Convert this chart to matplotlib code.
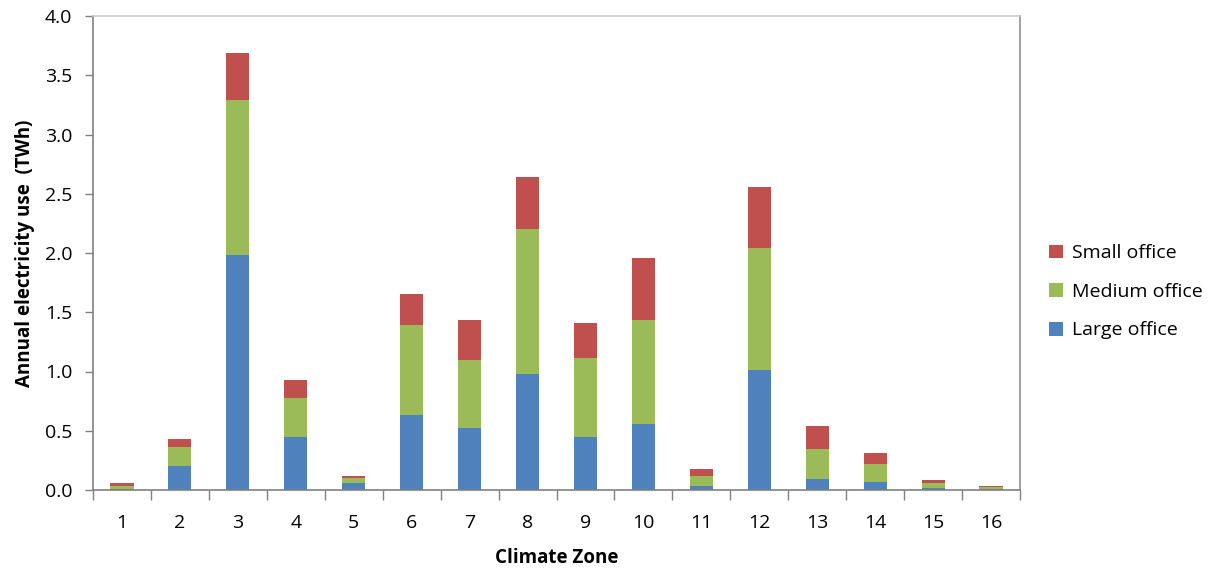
import numpy as np
import matplotlib
matplotlib.use("Agg")
import matplotlib.pyplot as plt
from matplotlib.ticker import FormatStrFormatter, MultipleLocator

# data (TWh)
zones = ['1', '2', '3', '4', '5', '6', '7', '8', '9', '10', '11', '12', '13', '14', '15', '16']
large = [0.01, 0.20, 1.98, 0.445, 0.055, 0.632, 0.524, 0.978, 0.448, 0.555, 0.037, 1.009, 0.09, 0.07, 0.02, 0.005]
medium = [0.025, 0.16, 1.31, 0.335, 0.045, 0.757, 0.572, 1.228, 0.668, 0.876, 0.084, 1.037, 0.26, 0.15, 0.04, 0.018]
small = [0.025, 0.068, 0.40, 0.15, 0.02, 0.268, 0.335, 0.437, 0.293, 0.527, 0.057, 0.507, 0.19, 0.09, 0.022, 0.007]

c_large = '#4F81BD'
c_medium = '#9BBB59'
c_small = '#C0504D'

plt.rcParams['font.family'] = ['Open Sans', 'DejaVu Sans']

fig = plt.figure(figsize=(12.27, 5.68), dpi=100)
ax = fig.add_axes([93/1227, 1-490/568, (1020-93)/1227, (490-16)/568])

x = np.arange(1, len(zones)+1)
large = np.array(large)
medium = np.array(medium)
small = np.array(small)
w = 0.4
b1 = ax.bar(x, large, w, color=c_large, label='Large office')
b2 = ax.bar(x, medium, w, bottom=large, color=c_medium, label='Medium office')
b3 = ax.bar(x, small, w, bottom=large+medium, color=c_small, label='Small office')

ax.set_xlim(0.5, 16.5)
ax.set_ylim(0, 4.0)
ax.yaxis.set_major_locator(MultipleLocator(0.5))
ax.yaxis.set_major_formatter(FormatStrFormatter('%.1f'))
ax.set_xticks(x)
ax.set_xticklabels(zones)
ax.set_xticks(np.arange(0.5, 17, 1), minor=True)
ax.tick_params(axis='x', which='major', length=0, pad=17, labelsize=14)
ax.tick_params(axis='x', which='minor', length=7, width=1, color='#808080', direction='out')
ax.tick_params(axis='y', length=6, width=1, color='#808080', labelsize=14, pad=9)

for s in ['left', 'bottom']:
    ax.spines[s].set_color('#808080')
    ax.spines[s].set_linewidth(1.2)
ax.spines['top'].set_color('#C8C8C8')
ax.spines['right'].set_color('#909090')
ax.spines['top'].set_linewidth(1.2)
ax.spines['right'].set_linewidth(1.2)

ax.set_xlabel('Climate Zone', fontsize=13.5, fontweight='bold', labelpad=12)
ax.set_ylabel('Annual electricity use  (TWh)', fontsize=13.5, fontweight='bold', labelpad=7)

leg = ax.legend(handles=[b3, b2, b1], loc='center left', borderaxespad=0, borderpad=0,
                frameon=False, fontsize=14, handlelength=0.72, handleheight=0.72,
                handletextpad=0.5, labelspacing=1.06)
leg.set_bbox_to_anchor((1.031, 0.418), transform=ax.transAxes)

fig.savefig('out.png', dpi=100)
